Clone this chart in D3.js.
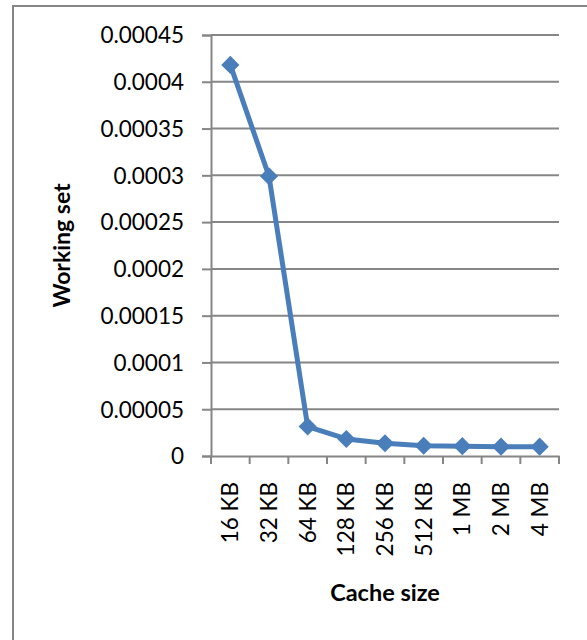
<!DOCTYPE html>
<html>
<head>
<meta charset="utf-8">
<script src="https://cdn.jsdelivr.net/npm/d3@7"></script>
<style>
  html, body { margin: 0; padding: 0; background: #fff; }
  svg { display: block; }
  text { font-family: Lato, "Open Sans", sans-serif; fill: #000; }
</style>
</head>
<body>
<svg id="chart" width="587" height="640"></svg>
<script>
// Cache sizes along the x axis
const categories = ["16 KB", "32 KB", "64 KB", "128 KB", "256 KB", "512 KB", "1 MB", "2 MB", "4 MB"];
// Working set measured for each cache size
const workingSet = [0.000418, 0.000299, 0.0000315, 0.0000182, 0.0000136, 0.000011, 0.0000105, 0.00001, 0.00001];
// Value axis ticks
const yTicks = [0, 0.00005, 0.0001, 0.00015, 0.0002, 0.00025, 0.0003, 0.00035, 0.0004, 0.00045];
const yTickLabels = ["0", "0.00005", "0.0001", "0.00015", "0.0002", "0.00025", "0.0003", "0.00035", "0.0004", "0.00045"];

const svg = d3.select("#chart");
const margin = { left: 211, right: 28, top: 35, bottom: 184 };
const W = 587, H = 640;

// chart frame (right and bottom edges fall outside the page)
svg.append("rect")
  .attr("x", 13).attr("y", 6)
  .attr("width", 600).attr("height", 660)
  .attr("fill", "#fff")
  .attr("stroke", "#868686").attr("stroke-width", 2);

const x = d3.scaleBand().domain(categories).range([margin.left, W - margin.right]).padding(0);
const y = d3.scaleLinear().domain([0, 0.00045]).range([H - margin.bottom, margin.top]);

// horizontal gridlines
svg.append("g")
  .selectAll("line")
  .data(yTicks.slice(1))
  .join("line")
  .attr("x1", margin.left).attr("x2", W - margin.right)
  .attr("y1", d => y(d)).attr("y2", d => y(d))
  .attr("stroke", "#868686").attr("stroke-width", 2);

// value axis
const yAxis = d3.axisLeft(y)
  .tickValues(yTicks)
  .tickFormat((d, i) => yTickLabels[i])
  .tickSize(9).tickPadding(18);
const gy = svg.append("g").attr("transform", `translate(${margin.left},0)`).call(yAxis);
gy.select(".domain").attr("stroke", "#868686").attr("stroke-width", 2);
gy.selectAll(".tick line").attr("stroke", "#868686").attr("stroke-width", 2);
gy.selectAll(".tick text").style("font-size", "22.5px").attr("dy", "0.35em");

// category axis
const xAxis = d3.axisBottom(x).tickSize(0).tickPadding(0);
const gx = svg.append("g").attr("transform", `translate(0,${y(0)})`).call(xAxis);
gx.select(".domain").attr("stroke", "#868686").attr("stroke-width", 2);
gx.selectAll(".tick line").remove();
gx.selectAll(".tick text")
  .style("font-size", "22.5px")
  .attr("text-anchor", "end")
  .attr("transform", "rotate(-90)")
  .attr("x", -26).attr("y", 0).attr("dy", "0.35em");
// tick marks on category boundaries
const bounds = categories.map(c => x(c)).concat([x.range()[1]]);
svg.append("g").selectAll("line").data(bounds).join("line")
  .attr("x1", d => d).attr("x2", d => d)
  .attr("y1", y(0)).attr("y2", y(0) + 8)
  .attr("stroke", "#868686").attr("stroke-width", 2);

// series line and diamond markers
const cx = d => x(d) + x.bandwidth() / 2;
const line = d3.line().x((d, i) => cx(categories[i])).y(d => y(d));
svg.append("path")
  .datum(workingSet)
  .attr("d", line)
  .attr("fill", "none")
  .attr("stroke", "#4a7ebb")
  .attr("stroke-width", 5)
  .attr("stroke-linejoin", "round");

const diamond = d3.symbol().type(d3.symbolDiamond2).size(210);
svg.append("g").selectAll("path").data(workingSet).join("path")
  .attr("d", diamond)
  .attr("transform", (d, i) => `translate(${cx(categories[i])},${y(d)})`)
  .attr("fill", "#4a7ebb");

// axis titles
svg.append("text")
  .attr("transform", `translate(70,${(margin.top + y(0)) / 2}) rotate(-90)`)
  .attr("text-anchor", "middle")
  .style("font-size", "23px").style("font-weight", "bold")
  .text("Working set");

svg.append("text")
  .attr("x", (margin.left + W - margin.right) / 2).attr("y", 601)
  .attr("text-anchor", "middle")
  .style("font-size", "23.5px").style("font-weight", "bold")
  .text("Cache size");
</script>
</body>
</html>
